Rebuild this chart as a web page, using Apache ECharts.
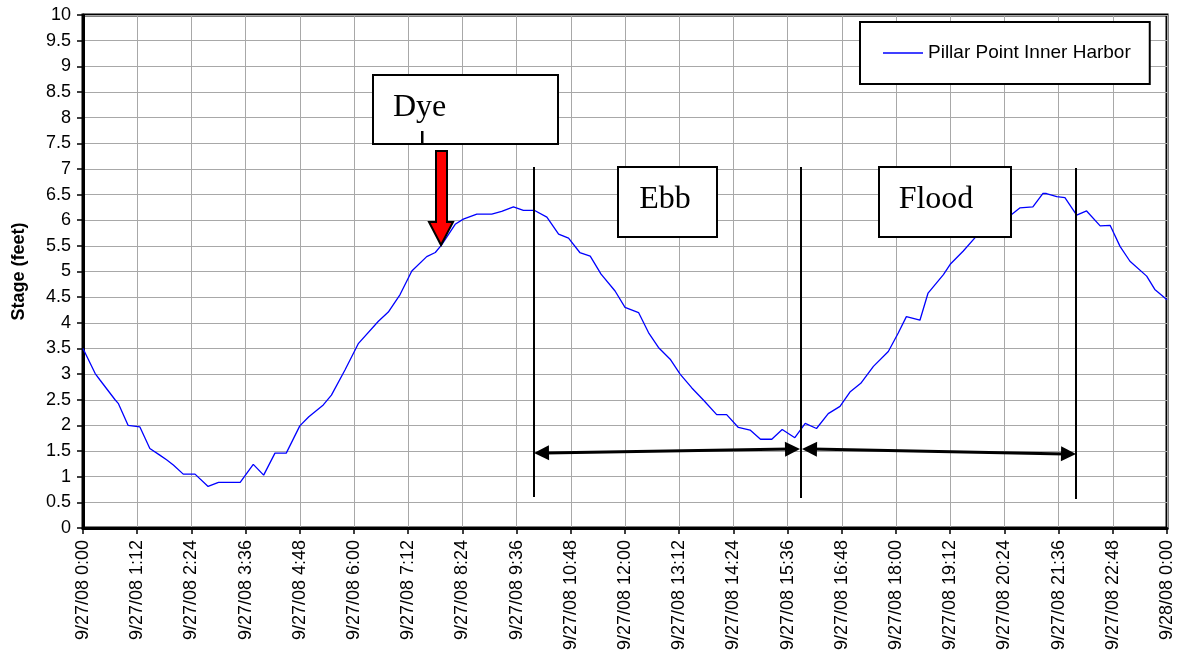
<!DOCTYPE html>
<html>
<head>
<meta charset="utf-8">
<script src="https://cdn.jsdelivr.net/npm/echarts@6/dist/echarts.min.js"></script>
<style>
html,body{margin:0;padding:0;background:#fff;}
#chart{width:1180px;height:654px;}
</style>
</head>
<body>
<div id="chart"></div>
<script>
// Time in hours since 9/27/08 0:00
const hours = [0,0.27,0.38,0.71,0.78,1.0,1.26,1.48,1.7,1.85,2.0,2.22,2.48,2.77,3.0,3.48,3.77,4.0,4.25,4.5,4.8,5.0,5.32,5.5,5.8,6.1,6.54,6.76,7.02,7.28,7.61,7.8,7.94,8.24,8.42,8.72,9.05,9.27,9.53,9.75,10.0,10.27,10.53,10.75,11.0,11.23,11.47,11.78,12.0,12.3,12.52,12.74,13.0,13.22,13.48,13.73,14.03,14.25,14.51,14.77,15.0,15.25,15.48,15.76,15.99,16.24,16.5,16.76,16.98,17.22,17.5,17.83,18.05,18.23,18.53,18.71,19.05,19.2,19.49,19.78,20.1,20.56,20.74,21.03,21.25,21.33,21.56,21.74,22.0,22.22,22.52,22.74,22.96,23.18,23.55,23.73,24.0];
// Stage (feet)
const stage = [3.5,3.01,2.88,2.5,2.43,2.0,1.97,1.55,1.42,1.33,1.23,1.05,1.05,0.81,0.89,0.89,1.24,1.03,1.46,1.46,1.99,2.17,2.4,2.59,3.08,3.6,4.03,4.21,4.55,5.01,5.29,5.37,5.52,5.92,6.02,6.12,6.12,6.17,6.26,6.19,6.19,6.06,5.73,5.65,5.37,5.3,4.95,4.62,4.3,4.2,3.81,3.52,3.29,3.0,2.73,2.5,2.21,2.21,1.96,1.91,1.73,1.73,1.92,1.76,2.04,1.94,2.23,2.37,2.65,2.82,3.15,3.44,3.8,4.12,4.05,4.58,4.94,5.14,5.4,5.69,5.95,6.11,6.24,6.26,6.52,6.52,6.46,6.44,6.1,6.18,5.89,5.9,5.49,5.2,4.91,4.65,4.45];
const xTickLabels = ['9/27/08 0:00','9/27/08 1:12','9/27/08 2:24','9/27/08 3:36','9/27/08 4:48','9/27/08 6:00','9/27/08 7:12','9/27/08 8:24','9/27/08 9:36','9/27/08 10:48','9/27/08 12:00','9/27/08 13:12','9/27/08 14:24','9/27/08 15:36','9/27/08 16:48','9/27/08 18:00','9/27/08 19:12','9/27/08 20:24','9/27/08 21:36','9/27/08 22:48','9/28/08 0:00'];
const seriesName = 'Pillar Point Inner Harbor';
const annotationTexts = ['Dye', 'Ebb', 'Flood'];

const chart = echarts.init(document.getElementById('chart'), null, {renderer: 'canvas'});
const lineData = hours.map((h, i) => [h, stage[i]]);
const sansFont = '"Liberation Sans", Arial, sans-serif';
const serifFont = '"Liberation Serif", "Times New Roman", serif';

function arrowHead(tipX, tipY, dirX, dirY, len, half) {
  const n = Math.hypot(dirX, dirY); const ux = dirX / n, uy = dirY / n;
  const bx = tipX - ux * len, by = tipY - uy * len;
  return [[tipX, tipY], [bx - uy * half, by + ux * half], [bx + uy * half, by - ux * half]];
}

const boxStyle = {fill: '#fff', stroke: '#000', lineWidth: 2};
const graphics = [
  {type: 'rect', z: 100, shape: {x: 373, y: 75, width: 185, height: 69}, style: boxStyle},
  {type: 'text', z: 101, style: {text: annotationTexts[0], x: 393, y: 108, font: '32px ' + serifFont, fill: '#000', verticalAlign: 'middle', align: 'left'}},
  {type: 'rect', z: 101, shape: {x: 421, y: 131, width: 2.5, height: 12}, style: {fill: '#000'}},
  {type: 'polygon', z: 100, shape: {points: [[436,151],[447,151],[447,222],[453,222],[441,245],[429,222],[436,222]]}, style: {fill: '#ff0000', stroke: '#000', lineWidth: 2}},
  {type: 'rect', z: 100, shape: {x: 618, y: 167, width: 99, height: 70}, style: boxStyle},
  {type: 'text', z: 101, style: {text: annotationTexts[1], x: 665, y: 200, font: '32px ' + serifFont, fill: '#000', verticalAlign: 'middle', align: 'center'}},
  {type: 'rect', z: 100, shape: {x: 879, y: 167, width: 132, height: 70}, style: boxStyle},
  {type: 'text', z: 101, style: {text: annotationTexts[2], x: 936, y: 200, font: '32px ' + serifFont, fill: '#000', verticalAlign: 'middle', align: 'center'}},
  {type: 'line', z: 100, shape: {x1: 534, y1: 167, x2: 534, y2: 497}, style: {stroke: '#000', lineWidth: 2}},
  {type: 'line', z: 100, shape: {x1: 801, y1: 167, x2: 801, y2: 498}, style: {stroke: '#000', lineWidth: 2}},
  {type: 'line', z: 100, shape: {x1: 1076, y1: 168, x2: 1076, y2: 499}, style: {stroke: '#000', lineWidth: 2}},
  // Ebb double arrow
  {type: 'line', z: 100, shape: {x1: 545, y1: 453, x2: 790, y2: 449}, style: {stroke: '#000', lineWidth: 3}},
  {type: 'polygon', z: 100, shape: {points: arrowHead(534, 453, -266, 4, 15, 7.5)}, style: {fill: '#000'}},
  {type: 'polygon', z: 100, shape: {points: arrowHead(800, 449, 266, -4, 15, 7.5)}, style: {fill: '#000'}},
  // Flood double arrow
  {type: 'line', z: 100, shape: {x1: 812, y1: 449, x2: 1065, y2: 454}, style: {stroke: '#000', lineWidth: 3}},
  {type: 'polygon', z: 100, shape: {points: arrowHead(802, 449, -274, -5, 15, 7.5)}, style: {fill: '#000'}},
  {type: 'polygon', z: 100, shape: {points: arrowHead(1076, 454, 274, 5, 15, 7.5)}, style: {fill: '#000'}}
];

const option = {
  animation: false,
  backgroundColor: '#fff',
  grid: {left: 83, right: 13, top: 15, bottom: 126, show: true, borderColor: '#000', borderWidth: 3, backgroundColor: 'transparent'},
  legend: {
    show: true,
    left: 860, top: 22,
    orient: 'horizontal',
    data: [{name: seriesName, icon: 'rect'}],
    itemWidth: 40, itemHeight: 1.5, itemGap: 0,
    padding: [20, 19, 20, 23],
    backgroundColor: '#fff', borderColor: '#000', borderWidth: 2,
    textStyle: {fontFamily: sansFont, fontSize: 19, color: '#000', padding: [0,0,0,0], lineHeight: 22},
    z: 50
  },
  xAxis: {
    type: 'value', min: 0, max: 24, interval: 1.2,
    axisLine: {show: true, lineStyle: {color: '#000', width: 3}},
    axisTick: {show: true, length: 6, lineStyle: {color: '#000', width: 1.5}},
    splitLine: {show: true, lineStyle: {color: '#a8a8a8', width: 1}},
    axisLabel: {
      rotate: 90, margin: 12, fontFamily: sansFont, fontSize: 18, color: '#000',
      formatter: v => xTickLabels[Math.round(v / 1.2)] || ''
    }
  },
  yAxis: {
    type: 'value', min: 0, max: 10, interval: 0.5,
    name: 'Stage (feet)', nameLocation: 'middle', nameGap: 55, nameRotate: 90,
    nameTextStyle: {fontFamily: sansFont, fontSize: 18, fontWeight: 'bold', color: '#000'},
    axisLine: {show: true, lineStyle: {color: '#000', width: 3}},
    axisTick: {show: true, length: 6, lineStyle: {color: '#000', width: 1.5}},
    splitLine: {show: true, lineStyle: {color: '#a8a8a8', width: 1}},
    axisLabel: {margin: 12, fontFamily: sansFont, fontSize: 18, color: '#000'}
  },
  series: [{
    name: seriesName, type: 'line', data: lineData,
    showSymbol: false, symbol: 'none',
    lineStyle: {color: '#0000ff', width: 1.3}, itemStyle: {color: '#0000ff'},
    z: 10
  }],
  graphic: graphics
};
chart.setOption(option);
</script>
</body>
</html>
